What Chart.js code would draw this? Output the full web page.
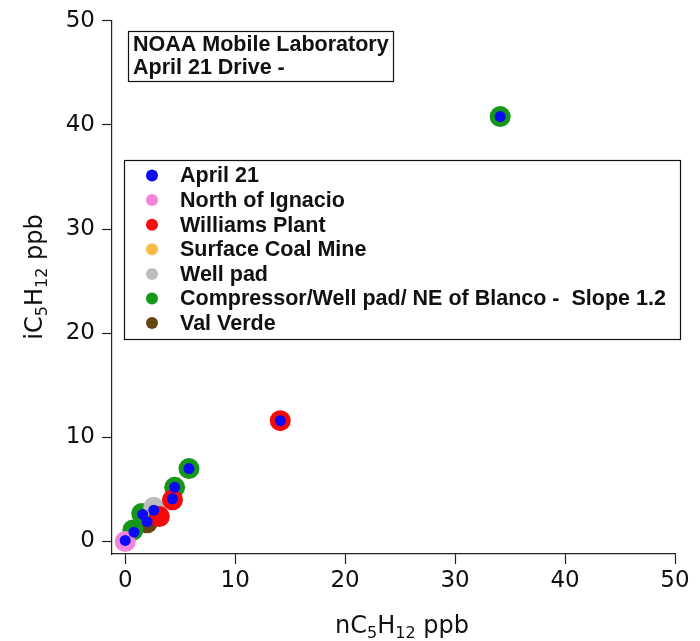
<!DOCTYPE html>
<html>
<head>
<meta charset="utf-8">
<script src="https://cdn.jsdelivr.net/npm/chart.js@4.4.1/dist/chart.umd.min.js"></script>
<style>
  html, body { margin: 0; padding: 0; background: #fff; }
  #wrap { width: 700px; height: 641px; position: relative; }
</style>
</head>
<body>
<div id="wrap"><canvas id="c" width="700" height="641"></canvas></div>
<script>
// Pentane isomers measured on the April 21 drive (ppb)
const seriesLabels = [
  'April 21',
  'North of Ignacio',
  'Williams Plant',
  'Surface Coal Mine',
  'Well pad',
  'Compressor/Well pad/ NE of Blanco -  Slope 1.2',
  'Val Verde'
];
const seriesColors = ['#0a0af5', '#f285dc', '#f50a0a', '#fdba48', '#bdbdbd', '#16971a', '#654510'];

const april21X = [0.0, 0.8, 1.6, 2.0, 2.6, 4.3, 4.5, 5.8, 14.1, 34.1];
const april21Y = [0.1, 0.9, 2.6, 1.9, 3.0, 4.1, 5.2, 7.0, 11.6, 40.8];

const ignacioX = [0.0];
const ignacioY = [0.0];

const williamsX = [3.1, 4.3, 14.1];
const williamsY = [2.4, 4.0, 11.6];

const coalMineX = [];
const coalMineY = [];

const wellPadX = [2.6];
const wellPadY = [3.3];

const blancoX = [0.7, 1.5, 4.5, 5.8, 34.1];
const blancoY = [1.1, 2.7, 5.2, 7.0, 40.8];

const valVerdeX = [2.0];
const valVerdeY = [1.8];

const xTicks = [0, 10, 20, 30, 40, 50];
const yTicks = [0, 10, 20, 30, 40, 50];

const titleLines = ['NOAA Mobile Laboratory', 'April 21 Drive -'];
// [text, isSubscript]
const xTitleParts = [['nC', 0], ['5', 1], ['H', 0], ['12', 1], [' ppb', 0]];
const yTitleParts = [['iC', 0], ['5', 1], ['H', 0], ['12', 1], [' ppb', 0]];

const seriesX = [april21X, ignacioX, williamsX, coalMineX, wellPadX, blancoX, valVerdeX];
const seriesY = [april21Y, ignacioY, williamsY, coalMineY, wellPadY, blancoY, valVerdeY];

const toPoints = (xs, ys) => xs.map((x, i) => ({ x: x, y: ys[i] }));

// dataset 0 (blue) is drawn last, so it sits on top of the coloured rings
const datasets = seriesLabels.map((label, i) => ({
  label: label,
  data: toPoints(seriesX[i], seriesY[i]),
  backgroundColor: seriesColors[i],
  borderWidth: 0,
  pointRadius: i === 0 ? 5.5 : 10.5,
  pointHoverRadius: i === 0 ? 5.5 : 10.5,
  clip: false
}));

function drawParts(ctx, parts, x, y, size, subSize, subShift) {
  // measure full width to centre the label
  let w = 0;
  parts.forEach(p => {
    ctx.font = (p[1] ? subSize : size) + 'px "DejaVu Sans"';
    w += ctx.measureText(p[0]).width;
  });
  let cx = x - w / 2;
  parts.forEach(p => {
    ctx.font = (p[1] ? subSize : size) + 'px "DejaVu Sans"';
    ctx.fillText(p[0], cx, y + (p[1] ? subShift : 0));
    cx += ctx.measureText(p[0]).width;
  });
}

const annotations = {
  id: 'annotations',
  afterDraw(chart) {
    const ctx = chart.ctx;
    ctx.save();
    ctx.fillStyle = '#111';
    ctx.textBaseline = 'alphabetic';
    ctx.textAlign = 'left';

    // axis titles
    drawParts(ctx, xTitleParts, 402, 633, 24, 16, 5);
    ctx.save();
    ctx.translate(42, 277);
    ctx.rotate(-Math.PI / 2);
    drawParts(ctx, yTitleParts, 0, 0, 24, 16, 5);
    ctx.restore();

    // title box
    ctx.strokeStyle = '#111';
    ctx.lineWidth = 1.2;
    ctx.strokeRect(128.5, 31.5, 265, 50);
    ctx.font = 'bold 21.5px "Liberation Sans"';
    ctx.fillText(titleLines[0], 133, 51);
    ctx.fillText(titleLines[1], 133, 74);

    // legend box
    ctx.strokeRect(124.5, 160.5, 556, 179);
    ctx.textBaseline = 'middle';
    chart.data.datasets.forEach((ds, i) => {
      const y = 175.5 + i * 24.6;
      ctx.fillStyle = ds.backgroundColor;
      ctx.beginPath();
      ctx.arc(152, y, 6, 0, Math.PI * 2);
      ctx.fill();
      ctx.fillStyle = '#111';
      ctx.fillText(ds.label, 180, y + 1);
    });
    ctx.restore();
  }
};

const axisCommon = {
  type: 'linear',
  min: -1.2,
  max: 50,
  border: { display: true, color: '#222', width: 1.2 },
  grid: {
    display: true,
    drawOnChartArea: false,
    drawTicks: true,
    tickLength: 10,
    tickWidth: 1.2,
    tickColor: '#222'
  }
};

new Chart(document.getElementById('c'), {
  type: 'scatter',
  data: { datasets: datasets },
  options: {
    responsive: false,
    animation: false,
    layout: { padding: { top: 18, right: 25, left: 0, bottom: 0 } },
    plugins: {
      legend: { display: false },
      tooltip: { enabled: false },
      title: { display: false }
    },
    scales: {
      x: Object.assign({}, axisCommon, {
        position: 'bottom',
        ticks: {
          color: '#111',
          font: { family: 'DejaVu Sans', size: 23 },
          padding: 3,
          maxRotation: 0
        },
        afterBuildTicks: axis => { axis.ticks = xTicks.map(v => ({ value: v })); },
        afterFit: axis => { axis.height = 87; }
      }),
      y: Object.assign({}, axisCommon, {
        position: 'left',
        ticks: {
          color: '#111',
          font: { family: 'DejaVu Sans', size: 23 },
          padding: 7
        },
        afterBuildTicks: axis => { axis.ticks = yTicks.map(v => ({ value: v })); },
        afterFit: axis => { axis.width = 112; }
      })
    }
  },
  plugins: [annotations]
});
</script>
</body>
</html>
